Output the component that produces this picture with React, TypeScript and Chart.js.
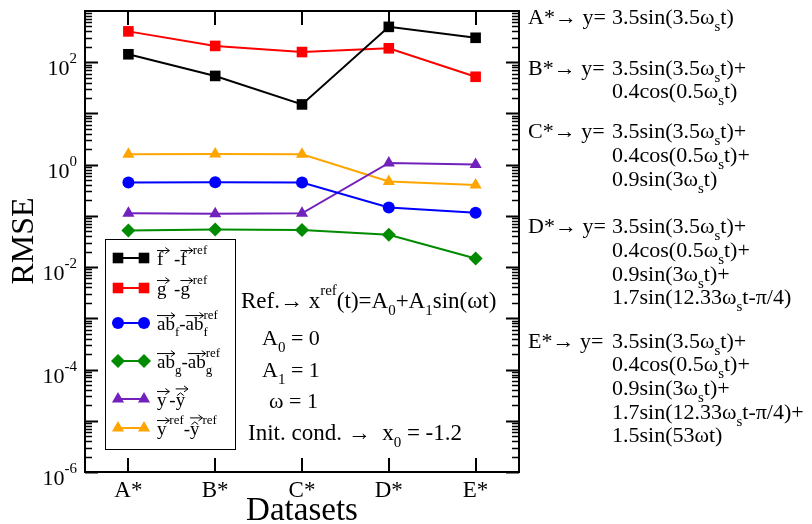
import React, { useEffect, useRef } from "react";
import { Chart, registerables } from "chart.js";

Chart.register(...registerables);

const categories = ["A*", "B*", "C*", "D*", "E*"];
const fVals = [143, 54, 15, 490, 300];
const gVals = [400, 208, 158, 187, 52];
const abfVals = [0.45, 0.455, 0.45, 0.146, 0.115];
const abgVals = [0.052, 0.054, 0.053, 0.043, 0.0147];
const yVals = [0.112, 0.11, 0.112, 1.08, 1.01];
const yRefVals = [1.6, 1.62, 1.6, 0.47, 0.4];
const yMin = 1e-6;
const yMax = 1e3;
const yLabelExponents = [-6, -4, -2, 0, 2];

const FONT = '"Liberation Serif", "Times New Roman", serif';

type Seg = { t: string; sub?: string; sup?: string; arrow?: boolean; hat?: boolean };

const series = [
  { data: fVals, color: "#000000", style: "rect", radius: 7.5,
    label: [{ t: "f", arrow: true }, { t: " -" }, { t: "f", arrow: true, sup: "ref" }] as Seg[] },
  { data: gVals, color: "#ff0000", style: "rect", radius: 7.5,
    label: [{ t: "g", arrow: true }, { t: " -" }, { t: "g", arrow: true, sup: "ref" }] as Seg[] },
  { data: abfVals, color: "#0000ff", style: "circle", radius: 6,
    label: [{ t: "ab", arrow: true, sub: "f" }, { t: "-" }, { t: "ab", arrow: true, sub: "f", sup: "ref" }] as Seg[] },
  { data: abgVals, color: "#008b00", style: "rectRot", radius: 7,
    label: [{ t: "ab", arrow: true, sub: "g" }, { t: "-" }, { t: "ab", arrow: true, sub: "g", sup: "ref" }] as Seg[] },
  { data: yVals, color: "#7221bc", style: "triangle", radius: 7,
    label: [{ t: "y", arrow: true }, { t: "-" }, { t: "y", arrow: true, hat: true }] as Seg[] },
  { data: yRefVals, color: "#ffa500", style: "triangle", radius: 7,
    label: [{ t: "y", arrow: true, sup: "ref" }, { t: "-" }, { t: "y", arrow: true, hat: true, sup: "ref" }] as Seg[] },
];

const legendRowsY = [258, 288, 323, 361, 399, 428];

const ws = (pre: string, post: string): Seg[] => [{ t: pre, sub: "s" }, { t: post }];

const rightBlocks: { prefix: string; lines: Seg[][]; ys: number[] }[] = [
  { prefix: "A*\u2192 y=", ys: [24], lines: [ws("3.5sin(3.5\u03c9", "t)")] },
  { prefix: "B*\u2192 y=", ys: [75, 98], lines: [ws("3.5sin(3.5\u03c9", "t)+"), ws("0.4cos(0.5\u03c9", "t)")] },
  { prefix: "C*\u2192 y=", ys: [138, 162, 186], lines: [ws("3.5sin(3.5\u03c9", "t)+"), ws("0.4cos(0.5\u03c9", "t)+"), ws("0.9sin(3\u03c9", "t)")] },
  { prefix: "D*\u2192 y=", ys: [233, 257, 281, 304], lines: [ws("3.5sin(3.5\u03c9", "t)+"), ws("0.4cos(0.5\u03c9", "t)+"), ws("0.9sin(3\u03c9", "t)+"), ws("1.7sin(12.33\u03c9", "t-\u03c0/4)")] },
  { prefix: "E*\u2192 y=", ys: [348, 371, 395, 419, 442], lines: [ws("3.5sin(3.5\u03c9", "t)+"), ws("0.4cos(0.5\u03c9", "t)+"), ws("0.9sin(3\u03c9", "t)+"), ws("1.7sin(12.33\u03c9", "t-\u03c0/4)+"), [{ t: "1.5sin(53\u03c9t)" }]] },
];

const annotations: { x: number; y: number; size: number; segs: Seg[] }[] = [
  { x: 241, y: 308, size: 23, segs: [{ t: "Ref.\u2192 x", sup: "ref" }, { t: "(t)=A", sub: "0" }, { t: "+A", sub: "1" }, { t: "sin(\u03c9t)" }] },
  { x: 262, y: 345, size: 22, segs: [{ t: "A", sub: "0" }, { t: " = 0" }] },
  { x: 262, y: 377, size: 22, segs: [{ t: "A", sub: "1" }, { t: " = 1" }] },
  { x: 269, y: 408, size: 22, segs: [{ t: "\u03c9 = 1" }] },
  { x: 248, y: 440, size: 23, segs: [{ t: "Init. cond. \u2192  x", sub: "0" }, { t: " = -1.2" }] },
];

function drawRich(ctx: CanvasRenderingContext2D, x: number, y: number, segs: Seg[], size: number) {
  const small = Math.round(size * 0.66);
  let cx = x;
  ctx.textAlign = "left";
  ctx.textBaseline = "alphabetic";
  for (const s of segs) {
    ctx.font = `${size}px ${FONT}`;
    const w = ctx.measureText(s.t).width;
    ctx.fillText(s.t, cx, y);
    let adv = w;
    ctx.strokeStyle = "#000";
    if (s.hat) {
      const hy = y - size * 0.55;
      ctx.beginPath();
      ctx.lineWidth = 1;
      ctx.moveTo(cx + w * 0.15, hy);
      ctx.lineTo(cx + w * 0.5, hy - size * 0.14);
      ctx.lineTo(cx + w * 0.85, hy);
      ctx.stroke();
    }
    if (s.arrow) {
      const aw = Math.max(w, size * 0.65);
      const ay = y - size * (s.hat ? 0.9 : 0.76);
      ctx.beginPath();
      ctx.lineWidth = 1;
      ctx.moveTo(cx, ay);
      ctx.lineTo(cx + aw, ay);
      ctx.moveTo(cx + aw - 4, ay - 3);
      ctx.lineTo(cx + aw, ay);
      ctx.lineTo(cx + aw - 4, ay + 3);
      ctx.stroke();
      adv = Math.max(adv, aw);
    }
    cx += adv;
    ctx.font = `${small}px ${FONT}`;
    let extra = 0;
    if (s.sub) {
      ctx.fillText(s.sub, cx, y + size * 0.32);
      extra = Math.max(extra, ctx.measureText(s.sub).width);
    }
    if (s.sup) {
      ctx.fillText(s.sup, cx, y - size * 0.58);
      extra = Math.max(extra, ctx.measureText(s.sup).width);
    }
    cx += extra;
  }
  return cx;
}

function drawMarker(ctx: CanvasRenderingContext2D, style: string, x: number, y: number, r: number, color: string) {
  ctx.fillStyle = color;
  ctx.beginPath();
  if (style === "rect") {
    const s = r * Math.SQRT1_2;
    ctx.rect(x - s, y - s, 2 * s, 2 * s);
  } else if (style === "circle") {
    ctx.arc(x, y, r, 0, Math.PI * 2);
  } else if (style === "rectRot") {
    ctx.moveTo(x - r, y);
    ctx.lineTo(x, y - r);
    ctx.lineTo(x + r, y);
    ctx.lineTo(x, y + r);
    ctx.closePath();
  } else {
    for (let k = 0; k < 3; k++) {
      const a = (k * 2 * Math.PI) / 3;
      const px = x + Math.sin(a) * r;
      const py = y - Math.cos(a) * r;
      if (k === 0) ctx.moveTo(px, py);
      else ctx.lineTo(px, py);
    }
    ctx.closePath();
  }
  ctx.fill();
}

const decorPlugin = {
  id: "decor",
  beforeDatasetsDraw(chart: any) {
    const ctx: CanvasRenderingContext2D = chart.ctx;
    const { left, right, top, bottom } = chart.chartArea;
    const ys = chart.scales.y;
    const xs = chart.scales.x;
    ctx.save();
    ctx.strokeStyle = "#000";
    for (let e = -6; e <= 2; e++) {
      for (let k = 1; k <= 9; k++) {
        const v = k * Math.pow(10, e);
        const py = Math.round(ys.getPixelForValue(v)) + 0.5;
        const len = k === 1 ? 13 : 7;
        ctx.lineWidth = k === 1 ? 2 : 1.5;
        ctx.beginPath();
        ctx.moveTo(left, py);
        ctx.lineTo(left + len, py);
        ctx.moveTo(right, py);
        ctx.lineTo(right - len, py);
        ctx.stroke();
      }
    }
    ctx.lineWidth = 2;
    categories.forEach((_, i) => {
      const px = Math.round(xs.getPixelForValue(i));
      ctx.beginPath();
      ctx.moveTo(px, top);
      ctx.lineTo(px, top + 14);
      ctx.moveTo(px, bottom);
      ctx.lineTo(px, bottom - 14);
      ctx.stroke();
    });
    ctx.lineWidth = 2;
    ctx.strokeRect(left, top, right - left, bottom - top);
    ctx.restore();
  },
  afterDatasetsDraw(chart: any) {
    const ctx: CanvasRenderingContext2D = chart.ctx;
    const { left } = chart.chartArea;
    const ys = chart.scales.y;
    const xs = chart.scales.x;
    ctx.save();
    ctx.fillStyle = "#000";
    yLabelExponents.forEach((e) => {
      const py = ys.getPixelForValue(Math.pow(10, e));
      const xr = left - 8;
      ctx.font = `15px ${FONT}`;
      const es = String(e);
      const ew = ctx.measureText(es).width;
      ctx.font = `22px ${FONT}`;
      const bw = ctx.measureText("10").width;
      ctx.textAlign = "left";
      ctx.textBaseline = "alphabetic";
      ctx.fillText("10", xr - ew - bw, py + 13);
      ctx.font = `15px ${FONT}`;
      ctx.fillText(es, xr - ew, py + 1);
    });
    ctx.font = `23px ${FONT}`;
    ctx.textAlign = "center";
    categories.forEach((c, i) => {
      ctx.fillText(c, xs.getPixelForValue(i), 497);
    });
    ctx.font = `33px ${FONT}`;
    ctx.fillText("Datasets", (chart.chartArea.left + chart.chartArea.right) / 2, 520);
    ctx.save();
    ctx.translate(33, 241);
    ctx.rotate(-Math.PI / 2);
    ctx.font = `32px ${FONT}`;
    ctx.textAlign = "center";
    ctx.fillText("RMSE", 0, 0);
    ctx.restore();

    ctx.fillStyle = "#fff";
    ctx.fillRect(105, 239, 130, 210);
    ctx.strokeStyle = "#000";
    ctx.lineWidth = 1;
    ctx.strokeRect(105.5, 239.5, 130, 210);
    series.forEach((s, i) => {
      const ry = legendRowsY[i];
      ctx.strokeStyle = s.color;
      ctx.lineWidth = 2;
      ctx.beginPath();
      ctx.moveTo(118, ry);
      ctx.lineTo(144, ry);
      ctx.stroke();
      drawMarker(ctx, s.style, 118, ry, s.radius, s.color);
      drawMarker(ctx, s.style, 144, ry, s.radius, s.color);
      ctx.fillStyle = "#000";
      drawRich(ctx, 157, ry + 7, s.label, 19);
    });

    ctx.fillStyle = "#000";
    annotations.forEach((a) => drawRich(ctx, a.x, a.y, a.segs, a.size));

    rightBlocks.forEach((b) => {
      ctx.font = `22px ${FONT}`;
      ctx.textAlign = "left";
      ctx.fillText(b.prefix, 528, b.ys[0]);
      b.lines.forEach((ln, j) => drawRich(ctx, 612, b.ys[j], ln, 22));
    });
    ctx.restore();
  },
};

export default function App() {
  const ref = useRef<HTMLCanvasElement | null>(null);
  useEffect(() => {
    if (!ref.current) return;
    const chart = new Chart(ref.current, {
      type: "line",
      data: {
        labels: categories,
        datasets: series.map((s) => ({
          data: s.data,
          borderColor: s.color,
          backgroundColor: s.color,
          borderWidth: 2,
          pointStyle: s.style as any,
          pointRadius: s.radius,
          pointBackgroundColor: s.color,
          pointBorderWidth: 0,
          tension: 0,
          clip: false as any,
        })),
      },
      options: {
        animation: false,
        responsive: false,
        devicePixelRatio: 1,
        layout: { padding: { left: 85, top: 11, right: 293, bottom: 52 } },
        plugins: { legend: { display: false }, tooltip: { enabled: false } },
        scales: {
          x: {
            type: "category",
            offset: true,
            grid: { display: false },
            border: { display: false },
            ticks: { display: false },
            afterFit: (s: any) => { s.height = 0; },
          },
          y: {
            type: "logarithmic",
            min: yMin,
            max: yMax,
            grid: { display: false },
            border: { display: false },
            ticks: { display: false },
            afterFit: (s: any) => { s.width = 0; },
          },
        },
      },
      plugins: [decorPlugin],
    });
    return () => chart.destroy();
  }, []);
  return (
    <div style={{ position: "absolute", left: 0, top: 0, width: 812, height: 524, background: "#fff" }}>
      <canvas ref={ref} width={812} height={524} style={{ width: 812, height: 524 }} />
    </div>
  );
}
